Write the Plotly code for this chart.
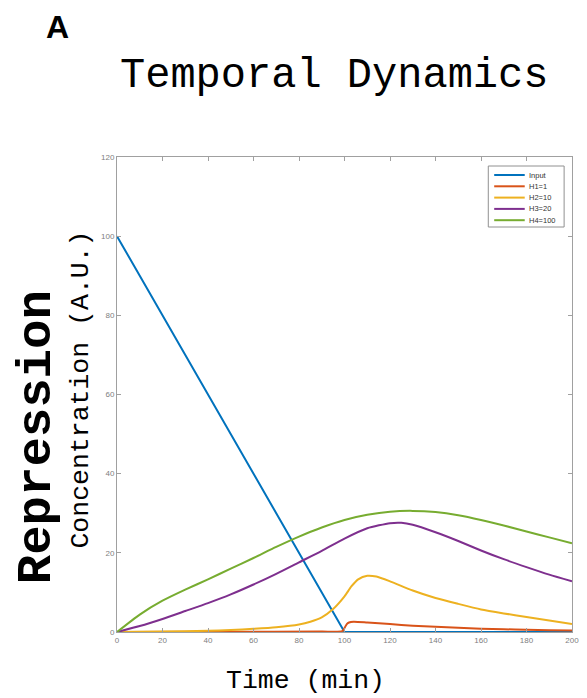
import plotly.graph_objects as go

# ---- data ----
t_input = [0, 100, 200]
v_input = [100, 0, 0]

t_h1 = [0, 50, 90, 99, 100, 101, 102, 104, 110, 120, 130, 140, 150, 160, 170, 180, 190, 200]
v_h1 = [0, 0.05, 0.1, 0.2, 1.0, 2.0, 2.4, 2.6, 2.4, 2.0, 1.6, 1.3, 1.05, 0.85, 0.7, 0.55, 0.45, 0.35]

t_h2 = [0, 20, 40, 50, 60, 70, 80, 85, 90, 95, 100, 103, 106, 110, 114, 120, 130, 140, 150, 160, 170, 180, 190, 200]
v_h2 = [0, 0.1, 0.3, 0.5, 0.8, 1.2, 1.9, 2.6, 3.7, 5.8, 9.0, 11.5, 13.3, 14.2, 14.0, 12.8, 10.5, 8.6, 7.1, 5.7, 4.7, 3.8, 2.9, 2.0]

t_h3 = [0, 10, 20, 30, 40, 50, 60, 70, 80, 90, 100, 110, 120, 125, 130, 140, 150, 160, 170, 180, 190, 200]
v_h3 = [0, 1.5, 3.3, 5.3, 7.3, 9.5, 12.0, 14.7, 17.6, 20.5, 23.6, 26.2, 27.5, 27.6, 27.1, 25.2, 23.0, 20.6, 18.4, 16.4, 14.5, 12.8]

t_h4 = [0, 10, 20, 30, 40, 50, 60, 70, 80, 90, 100, 110, 120, 130, 140, 150, 160, 170, 180, 190, 200]
v_h4 = [0, 4.4, 7.9, 10.7, 13.3, 16.0, 18.7, 21.5, 24.1, 26.4, 28.3, 29.6, 30.4, 30.6, 30.3, 29.5, 28.3, 26.9, 25.4, 23.9, 22.4]

names = ["Input", "H1=1", "H2=10", "H3=20", "H4=100"]
colors = ["#0072BD", "#D95319", "#EDB120", "#7E2F8E", "#77AC30"]

x_ticks = [0, 20, 40, 60, 80, 100, 120, 140, 160, 180, 200]
y_ticks = [0, 20, 40, 60, 80, 100, 120]

series = [(t_input, v_input, "linear"), (t_h1, v_h1, "spline"), (t_h2, v_h2, "spline"),
          (t_h3, v_h3, "spline"), (t_h4, v_h4, "spline")]

fig = go.Figure()
for (t, v, shape), n, c in zip(series, names, colors):
    fig.add_trace(go.Scatter(x=t, y=v, mode="lines", name=n, showlegend=False,
                             line=dict(color=c, width=2, shape=shape, smoothing=0.6)))

# page body has an 8px margin, so the figure sits at (8, 8) in the window
OFF = 8
W, H = 587 - OFF, 698 - OFF
L, R, T, B = 117 - OFF, 8, 157 - OFF, 66
pw, ph = W - L - R, H - T - B

def px(x):  # window pixel -> paper
    return (x - OFF - L) / pw

def py(y):
    return (H - B - (y - OFF)) / ph

axis_common = dict(showline=True, linecolor="#a0a0a0", linewidth=1, mirror="ticks",
                   ticks="inside", ticklen=4, tickcolor="#a0a0a0", showgrid=False,
                   zeroline=False, tickfont=dict(family="Liberation Sans", size=8, color="#808080"))

fig.update_layout(
    width=W, height=H,
    margin=dict(l=L, r=R, t=T, b=B),
    paper_bgcolor="white", plot_bgcolor="white",
    xaxis=dict(range=[0, 200], tickvals=x_ticks, **axis_common),
    yaxis=dict(range=[0, 120], tickvals=y_ticks, **axis_common),
    showlegend=False,
)

# ---- compact legend box (MATLAB style) ----
lg_x0, lg_x1, lg_y0, lg_y1 = 494, 571, 166, 227
fig.add_shape(type="rect", xref="paper", yref="paper",
              x0=px(lg_x0), x1=px(lg_x1), y0=py(lg_y1), y1=py(lg_y0),
              line=dict(color="#909090", width=1), fillcolor="white", layer="above")
for i, (n, c) in enumerate(zip(names, colors)):
    yy = 175 + 11.3 * i
    fig.add_shape(type="line", xref="paper", yref="paper",
                  x0=px(500), x1=px(531), y0=py(yy), y1=py(yy),
                  line=dict(color=c, width=2), layer="above")
    fig.add_annotation(text=n, x=px(533), y=py(yy), xref="paper", yref="paper",
                       xanchor="left", yanchor="middle", showarrow=False,
                       font=dict(family="Liberation Sans", size=7.5, color="#333333"))

mono = "Liberation Mono"
def label(text, x, y, size, family=mono, angle=0):
    fig.add_annotation(text=text, x=px(x), y=py(y), xref="paper", yref="paper",
                       xanchor="center", yanchor="middle", showarrow=False, textangle=angle,
                       font=dict(family=family, size=size, color="black"))

label("<b>A</b>", 57, 27, 32, family="Liberation Sans")
label("Temporal Dynamics", 337, 76, 42)
label("<b>Repression</b>", 36, 437, 49, angle=-90)
label("Concentration (A.U.)", 80, 390, 26.5, angle=-90)
label("Time (min)", 308, 681, 26.5)

fig.write_html("out.html")
